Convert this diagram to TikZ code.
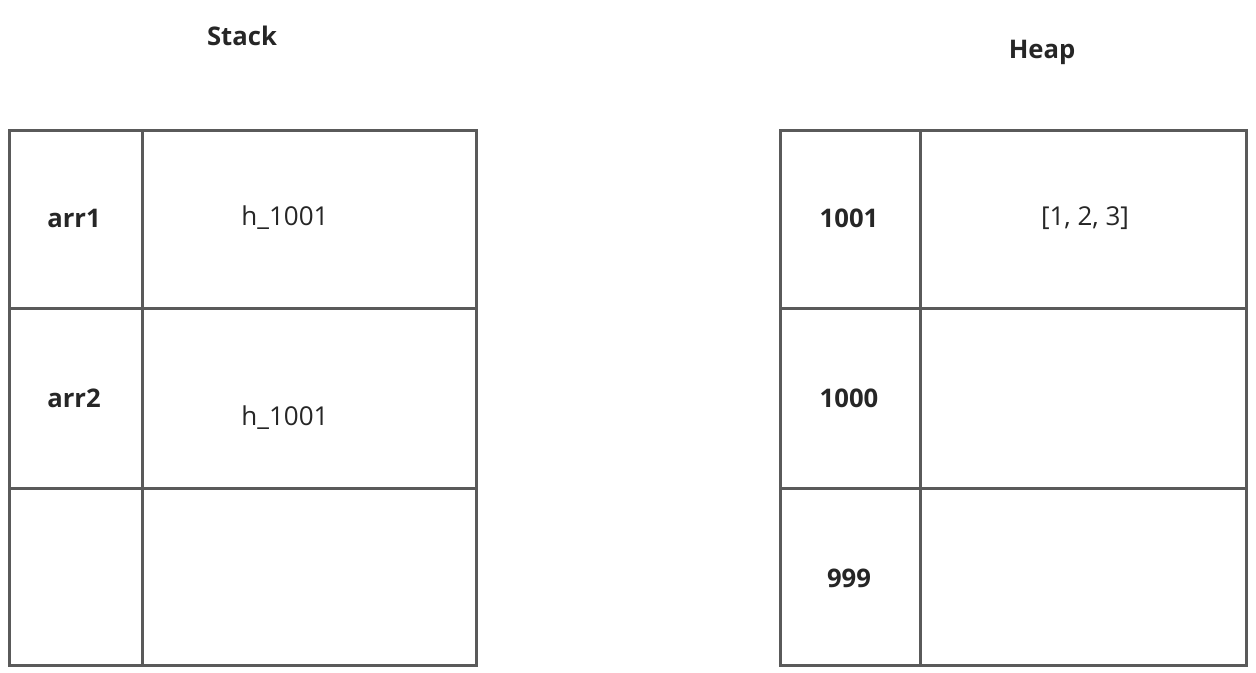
\documentclass[tikz,border=0pt]{standalone}
\usepackage{fontspec}
\setmainfont{Open Sans}
\tikzset{
  cell/.style={draw=linegray, line width=1.8pt, inner sep=0pt, anchor=north west},
  title/.style={font=\fontsize{14.6}{17}\selectfont\bfseries, text=textgray},
  key/.style={font=\fontsize{14.6}{17}\selectfont\bfseries, text=textgray},
  val/.style={font=\fontsize{14.8}{17}\selectfont, text=textgray}
}
\definecolor{linegray}{HTML}{5A5A5A}
\definecolor{textgray}{HTML}{262626}
\begin{document}
\begin{tikzpicture}[x=0.02cm, y=-0.02cm]
  \useasboundingbox (0,0) rectangle (1256,672);

  % Titles
  \node[title] (stack) at (242,36) {Stack};
  \node[title] (heap) at (1042,52) {Heap};

  % Stack cells
  \node[cell, minimum width=133*0.02cm, minimum height=178*0.02cm] (s11) at (8,129) {};
  \node[cell, minimum width=334*0.02cm, minimum height=178*0.02cm] (s12) at (141,129) {};
  \node[cell, minimum width=133*0.02cm, minimum height=180*0.02cm] (s21) at (8,307) {};
  \node[cell, minimum width=334*0.02cm, minimum height=180*0.02cm] (s22) at (141,307) {};
  \node[cell, minimum width=133*0.02cm, minimum height=177*0.02cm] (s31) at (8,487) {};
  \node[cell, minimum width=334*0.02cm, minimum height=177*0.02cm] (s32) at (141,487) {};

  % Heap cells
  \node[cell, minimum width=140*0.02cm, minimum height=178*0.02cm] (h11) at (779,129) {};
  \node[cell, minimum width=326*0.02cm, minimum height=178*0.02cm] (h12) at (919,129) {};
  \node[cell, minimum width=140*0.02cm, minimum height=180*0.02cm] (h21) at (779,307) {};
  \node[cell, minimum width=326*0.02cm, minimum height=180*0.02cm] (h22) at (919,307) {};
  \node[cell, minimum width=140*0.02cm, minimum height=177*0.02cm] (h31) at (779,487) {};
  \node[cell, minimum width=326*0.02cm, minimum height=177*0.02cm] (h32) at (919,487) {};

  % Stack contents
  \node[key] (arr1) at (74,218) {arr1};
  \node[val] (ref1) at (285,218) {h\_1001};
  \node[key] (arr2) at (74,398) {arr2};
  \node[val] (ref2) at (285,418) {h\_1001};

  % Heap contents
  \node[key] (addr1001) at (849,218) {1001};
  \node[val] (data) at (1085,218) {[1, 2, 3]};
  \node[key] (addr1000) at (849,398) {1000};
  \node[key] (addr999) at (849,578) {999};
\end{tikzpicture}
\end{document}
